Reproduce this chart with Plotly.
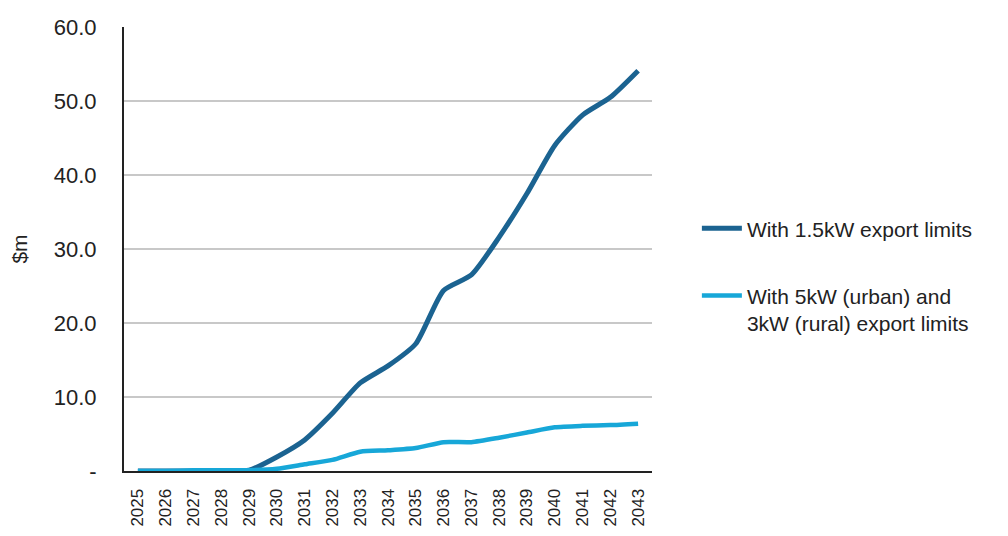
import plotly.graph_objects as go

# Financial years
years = [str(y) for y in range(2025, 2044)]

# Cost ($m) under each export-limit scenario
limit_1_5kw = [0.0, 0.0, 0.0, 0.0, 0.1, 1.9, 4.2, 7.8, 11.9, 14.2, 17.2,
               24.4, 26.5, 31.6, 37.5, 44.0, 48.1, 50.5, 54.1]
limit_5kw_3kw = [0.0, 0.0, 0.1, 0.1, 0.1, 0.3, 0.9, 1.5, 2.6, 2.8, 3.1,
                 3.9, 3.9, 4.5, 5.2, 5.9, 6.1, 6.2, 6.4]

# Value-axis ticks
y_ticks = [0, 10, 20, 30, 40, 50, 60]
y_tick_text = ["-", "10.0", "20.0", "30.0", "40.0", "50.0", "60.0"]

DARK = "#1b6391"
LIGHT = "#17a7d8"
FONT = "Liberation Sans, Arial, sans-serif"

fig = go.Figure()
fig.add_trace(go.Scatter(
    x=years, y=limit_1_5kw, mode="lines",
    name="With 1.5kW export limits",
    line=dict(color=DARK, width=5, shape="spline", smoothing=0.6),
    legendgroup="a",
))
fig.add_trace(go.Scatter(
    x=years, y=limit_5kw_3kw, mode="lines",
    name="With 5kW (urban) and<br>3kW (rural) export limits",
    line=dict(color=LIGHT, width=4.5, shape="spline", smoothing=0.6),
    legendgroup="b",
))

fig.update_layout(
    width=1008, height=536,
    margin=dict(l=124, r=356, t=27, b=65, autoexpand=False),
    paper_bgcolor="white", plot_bgcolor="white",
    font=dict(family=FONT, color="#222222"),
    showlegend=True,
    legend=dict(
        x=1.085, y=0.592, xanchor="left", yanchor="top",
        font=dict(size=21, family=FONT, color="#222222"),
        tracegroupgap=37, valign="top", itemwidth=40,
        bgcolor="rgba(0,0,0,0)",
    ),
    xaxis=dict(
        type="category", tickangle=-90, range=[-0.5, 18.5],
        tickfont=dict(size=17, family=FONT, color="#222222"),
        showgrid=False, showline=True, linecolor="#222222", linewidth=2,
        ticks="", ticklabelstandoff=9, automargin=False, fixedrange=True,
    ),
    yaxis=dict(
        range=[0, 60], tickvals=y_ticks, ticktext=y_tick_text,
        tickfont=dict(size=22, family=FONT, color="#222222"),
        showgrid=True, gridcolor="#c8c8c8", gridwidth=1.5,
        showline=True, linecolor="#222222", linewidth=2,
        zeroline=False, ticks="", ticklabelstandoff=21, automargin=False,
        title=dict(text="$m", font=dict(size=21, family=FONT, color="#222222"),
                   standoff=20),
        fixedrange=True,
    ),
)

fig.write_html("out.html")
